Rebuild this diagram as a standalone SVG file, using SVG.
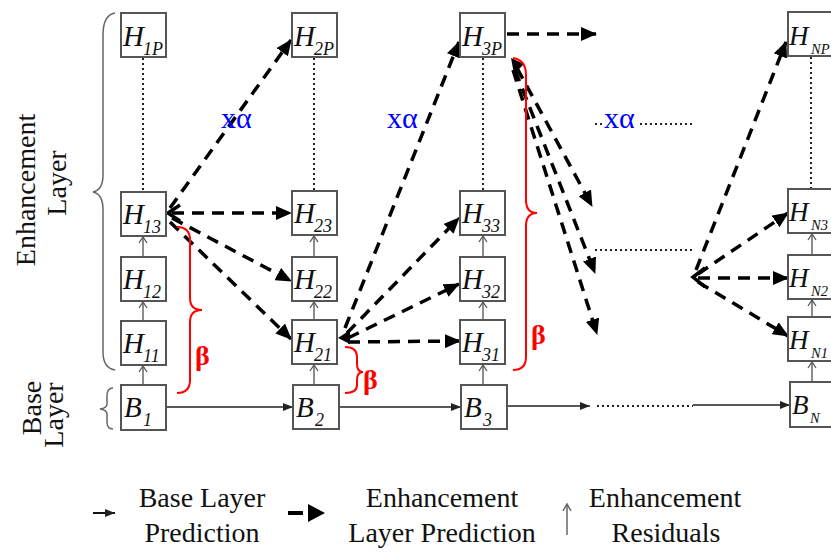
<svg xmlns="http://www.w3.org/2000/svg" width="831" height="552" viewBox="0 0 831 552">
<defs>
<style>
.box{fill:#fff;stroke:#555;stroke-width:2}
.lbl{font-family:"Liberation Serif","Times New Roman",serif;font-style:italic;fill:#111}
.big{font-size:29px}
.bign{font-size:27px}
.sub{font-size:18px}
.subn{font-size:14.5px}
.dash{fill:none;stroke:#000;stroke-width:3.5;stroke-dasharray:12 8}
.base{fill:none;stroke:#222;stroke-width:1.5}
.dot{fill:none;stroke:#222;stroke-width:2;stroke-dasharray:2 3}
.res{fill:none;stroke:#666;stroke-width:1.5}
.brace{fill:none;stroke:#f00;stroke-width:2}
.gbrace{fill:none;stroke:#666;stroke-width:1.5}
.beta{font-family:"Liberation Serif","Times New Roman",serif;font-weight:bold;font-size:28px;fill:#f00}
.alpha{font-family:"Liberation Serif","Times New Roman",serif;font-size:30px;fill:#00f}
.txt{font-family:"Liberation Serif","Times New Roman",serif;font-size:28px;fill:#111}
</style>
<marker id="ah" viewBox="0 0 16 14" refX="15" refY="7" markerWidth="16" markerHeight="14" markerUnits="userSpaceOnUse" orient="auto"><path d="M0,0 L16,7 L0,14 z" fill="#000"/></marker>
<marker id="ahs" viewBox="0 0 10 8" refX="10" refY="4" markerWidth="10" markerHeight="8" markerUnits="userSpaceOnUse" orient="auto"><path d="M0,0 L10,4 L0,8 z" fill="#222"/></marker>
<marker id="ro" viewBox="-7 -5 8 10" refX="0" refY="0" markerWidth="8" markerHeight="10" markerUnits="userSpaceOnUse" orient="auto"><path d="M-6,-4 L0,0 L-6,4" fill="none" stroke="#555" stroke-width="1.3"/></marker>
</defs>

<!-- left braces and layer labels -->
<g id="enh-label">
<path class="gbrace" d="M115,13 Q103,15 103,35 L103,175 Q103,190 93,192 Q103,194 103,210 L103,352 Q103,368 115,370"/>
<text class="txt" text-anchor="middle" transform="translate(35,190) rotate(-90)" font-size="27">Enhancement</text>
<text class="txt" text-anchor="middle" transform="translate(66,183) rotate(-90)" font-size="27">Layer</text>
</g>
<g id="base-label">
<path class="gbrace" d="M113,388 Q107,388 107,396 L107,404 Q107,408 100,409 Q107,410 107,414 L107,422 Q107,429 113,429"/>
<text class="txt" text-anchor="middle" transform="translate(41,408) rotate(-90)" font-size="27">Base</text>
<text class="txt" text-anchor="middle" transform="translate(63,415) rotate(-90)" font-size="27">Layer</text>
</g>

<!-- connectors -->
<g id="connectors">
<!-- dotted vertical -->
<path class="dot" d="M143,58 V192 M314,58 V191 M483,58 V191 M811,57 V189"/>
<!-- residual arrows -->
<g class="res">
<path d="M143,385 V366" marker-end="url(#ro)"/><path d="M143,321 V302" marker-end="url(#ro)"/><path d="M143,257 V237" marker-end="url(#ro)"/>
<path d="M314,385 V365" marker-end="url(#ro)"/><path d="M314,320 V302" marker-end="url(#ro)"/><path d="M314,257 V236" marker-end="url(#ro)"/>
<path d="M483,385 V365" marker-end="url(#ro)"/><path d="M483,320 V302" marker-end="url(#ro)"/><path d="M483,257 V236" marker-end="url(#ro)"/>
<path d="M812,382 V362" marker-end="url(#ro)"/><path d="M812,317 V300" marker-end="url(#ro)"/><path d="M812,255 V234" marker-end="url(#ro)"/>
</g>
<!-- base layer prediction -->
<path class="base" d="M166,407 H293" marker-end="url(#ahs)"/>
<path class="base" d="M339,407 H461" marker-end="url(#ahs)"/>
<path class="base" d="M507,406 H590" marker-end="url(#ahs)"/>
<path class="dot" d="M597,406 H693"/>
<path class="base" d="M693,405 H790" marker-end="url(#ahs)"/>
<!-- enhancement predictions from H13 -->
<path class="dash" d="M170,208 L291,40" marker-end="url(#ah)"/>
<path class="dash" d="M172,213 L291,213" marker-end="url(#ah)"/>
<path class="dash" d="M172,218 L291,281" marker-end="url(#ah)"/>
<path class="dash" d="M170,222 L291,339" marker-end="url(#ah)"/>
<path d="M180,205 L168,213 L180,221" fill="none" stroke="#000" stroke-width="3.5"/>
<!-- from H21 -->
<path class="dash" d="M345,328 L459,42" marker-end="url(#ah)"/>
<path class="dash" d="M347,333 L459,218" marker-end="url(#ah)"/>
<path class="dash" d="M348,338 L459,284" marker-end="url(#ah)"/>
<path class="dash" d="M348,342 L460,341" marker-end="url(#ah)"/>
<path d="M350,330 L338,338 L350,344 z" fill="#000"/>
<!-- from H3P -->
<path class="dash" d="M507,34 L596,34" marker-end="url(#ah)"/>
<path class="dash" d="M517,68 L592,206" marker-end="url(#ah)"/>
<path class="dash" d="M515,70 L595,273" marker-end="url(#ah)"/>
<path class="dash" d="M513,70 L597,334" marker-end="url(#ah)"/>
<path d="M511,58 L524,64 L514,74 z" fill="#000"/>
<!-- dotted gaps -->
<path class="dot" d="M595,124 H693"/>
<path class="dot" d="M595,250 H693"/>
<!-- to column N -->
<path class="dash" d="M696,270 L786,42" marker-end="url(#ah)"/>
<path class="dash" d="M698,274 L788,213" marker-end="url(#ah)"/>
<path class="dash" d="M698,278 L788,278" marker-end="url(#ah)"/>
<path class="dash" d="M698,282 L788,336" marker-end="url(#ah)"/>
<path d="M705,268 L693,277 L705,287" fill="none" stroke="#000" stroke-width="3.5"/>
</g>

<!-- alpha labels -->
<g id="alpha-labels">
<rect x="602" y="104" width="38" height="28" fill="#fff"/>
<text class="alpha" x="221" y="128">xα</text>
<text class="alpha" x="387" y="128">xα</text>
<text class="alpha" x="604" y="128">xα</text>
</g>

<!-- beta braces -->
<g id="beta1">
<path class="brace" d="M177,227 Q190,227 190,240 L190,298 Q190,310 202,310 Q190,310 190,322 L190,380 Q190,393 177,393"/>
<text class="beta" x="195" y="365">β</text>
</g>
<g id="beta2">
<path class="brace" d="M345,347 Q357,347 357,357 L357,364 Q357,372 363,372 Q357,372 357,380 L357,385 Q357,393 345,393"/>
<text class="beta" x="363" y="389">β</text>
</g>
<g id="beta3">
<path class="brace" d="M513,58 Q526,60 526,75 L526,200 Q526,213 537,213 Q526,213 526,226 L526,357 Q526,370 513,370"/>
<text class="beta" x="531" y="344">β</text>
</g>

<!-- column 1 -->
<g id="H1P"><rect class="box" x="121" y="13" width="45" height="44"/><text class="lbl big" x="123" y="46">H</text><text class="lbl sub" x="143" y="55">1P</text></g>
<g id="H13"><rect class="box" x="121" y="192" width="45" height="44"/><text class="lbl big" x="123" y="224">H</text><text class="lbl sub" x="143" y="233">13</text></g>
<g id="H12"><rect class="box" x="121" y="257" width="45" height="44"/><text class="lbl big" x="123" y="289">H</text><text class="lbl sub" x="143" y="298">12</text></g>
<g id="H11"><rect class="box" x="121" y="321" width="45" height="44"/><text class="lbl big" x="123" y="353">H</text><text class="lbl sub" x="143" y="362">11</text></g>
<g id="B1"><rect class="box" x="121" y="385" width="45" height="45"/><text class="lbl big" x="124" y="417">B</text><text class="lbl sub" x="143" y="426">1</text></g>
<!-- column 2 -->
<g id="H2P"><rect class="box" x="292" y="13" width="45" height="44"/><text class="lbl big" x="294" y="46">H</text><text class="lbl sub" x="314" y="55">2P</text></g>
<g id="H23"><rect class="box" x="292" y="191" width="45" height="44"/><text class="lbl big" x="294" y="223">H</text><text class="lbl sub" x="314" y="232">23</text></g>
<g id="H22"><rect class="box" x="292" y="257" width="45" height="44"/><text class="lbl big" x="294" y="289">H</text><text class="lbl sub" x="314" y="298">22</text></g>
<g id="H21"><rect class="box" x="292" y="320" width="45" height="44"/><text class="lbl big" x="294" y="352">H</text><text class="lbl sub" x="314" y="361">21</text></g>
<g id="B2"><rect class="box" x="293" y="385" width="46" height="44"/><text class="lbl big" x="296" y="417">B</text><text class="lbl sub" x="315" y="426">2</text></g>
<!-- column 3 -->
<g id="H3P"><rect class="box" x="460" y="13" width="45" height="44"/><text class="lbl big" x="462" y="46">H</text><text class="lbl sub" x="482" y="55">3P</text></g>
<g id="H33"><rect class="box" x="460" y="191" width="45" height="44"/><text class="lbl big" x="462" y="223">H</text><text class="lbl sub" x="482" y="232">33</text></g>
<g id="H32"><rect class="box" x="460" y="257" width="45" height="44"/><text class="lbl big" x="462" y="289">H</text><text class="lbl sub" x="482" y="298">32</text></g>
<g id="H31"><rect class="box" x="460" y="320" width="45" height="44"/><text class="lbl big" x="462" y="352">H</text><text class="lbl sub" x="482" y="361">31</text></g>
<g id="B3"><rect class="box" x="461" y="385" width="46" height="44"/><text class="lbl big" x="464" y="417">B</text><text class="lbl sub" x="483" y="426">3</text></g>
<!-- column N -->
<g id="HNP"><rect class="box" x="788" y="12" width="50" height="44"/><text class="lbl bign" x="789" y="45">H</text><text class="lbl subn" x="811" y="54">NP</text></g>
<g id="HN3"><rect class="box" x="788" y="189" width="50" height="44"/><text class="lbl bign" x="789" y="221">H</text><text class="lbl subn" x="811" y="230">N3</text></g>
<g id="HN2"><rect class="box" x="788" y="255" width="50" height="44"/><text class="lbl bign" x="789" y="287">H</text><text class="lbl subn" x="811" y="296">N2</text></g>
<g id="HN1"><rect class="box" x="788" y="317" width="50" height="44"/><text class="lbl bign" x="789" y="349">H</text><text class="lbl subn" x="811" y="358">N1</text></g>
<g id="BN"><rect class="box" x="790" y="382" width="50" height="45"/><text class="lbl bign" x="792" y="414">B</text><text class="lbl subn" x="810" y="423">N</text></g>

<!-- legend -->
<g id="legend">
<path d="M93,513 H115" fill="none" stroke="#111" stroke-width="2" marker-end="url(#ahs)"/>
<text class="txt" x="202" y="507" text-anchor="middle">Base Layer</text>
<text class="txt" x="202" y="542" text-anchor="middle">Prediction</text>
<path d="M288,513 H303" stroke="#000" stroke-width="4"/>
<path d="M308,504 L325,513 L308,522 z" fill="#000"/>
<text class="txt" x="442" y="507" text-anchor="middle">Enhancement</text>
<text class="txt" x="442" y="542" text-anchor="middle">Layer Prediction</text>
<path d="M567,535 V505" class="res"/>
<path d="M563,511 L567,504 L571,511" class="res"/>
<text class="txt" x="665" y="507" text-anchor="middle">Enhancement</text>
<text class="txt" x="666" y="542" text-anchor="middle">Residuals</text>
</g>
</svg>
